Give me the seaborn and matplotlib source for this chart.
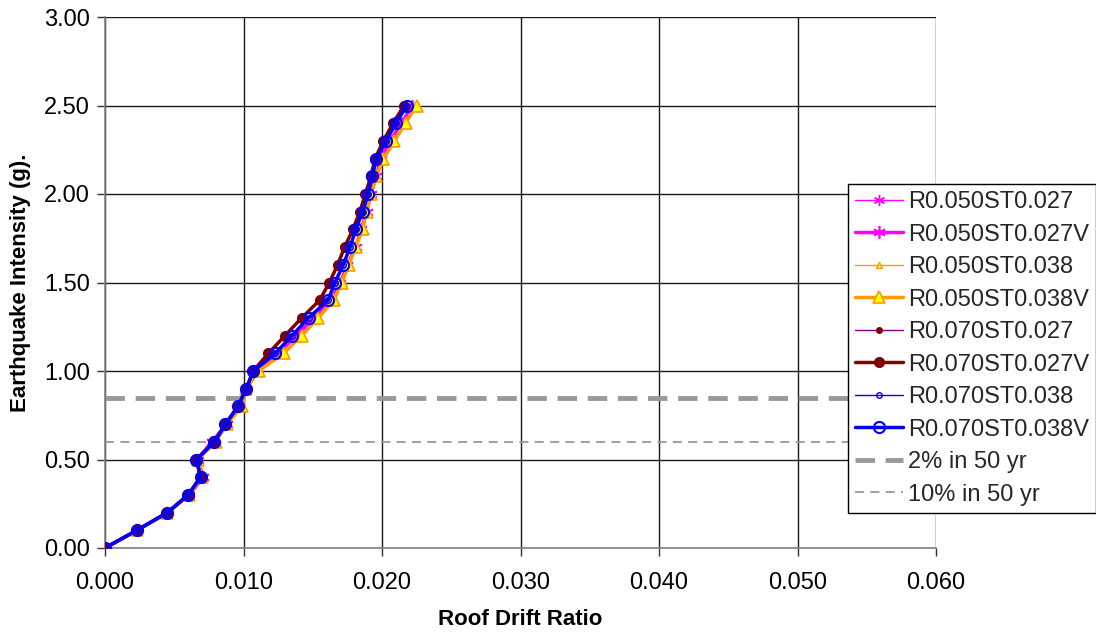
import matplotlib
matplotlib.use("Agg")
import matplotlib.pyplot as plt
import seaborn as sns
import numpy as np
import pandas as pd
from matplotlib.ticker import FormatStrFormatter, MultipleLocator

# ---- data ----
intensity = [0.0, 0.1, 0.2, 0.3, 0.4, 0.5, 0.6, 0.7, 0.8, 0.9, 1.0, 1.1, 1.2,
             1.3, 1.4, 1.5, 1.6, 1.7, 1.8, 1.9, 2.0, 2.1, 2.2, 2.3, 2.4, 2.5]

r050_st027 = [0.0, 0.0023, 0.0045, 0.0061, 0.0071, 0.0067, 0.0077, 0.0088, 0.0097, 0.0102,
              0.0109, 0.0125, 0.0138, 0.0151, 0.0163, 0.0170, 0.0175, 0.0181, 0.0185, 0.0189,
              0.0192, 0.0196, 0.0199, 0.0206, 0.0214, 0.0222]
r050_st027v = [0.0, 0.0023, 0.0045, 0.0061, 0.0071, 0.0067, 0.0077, 0.0088, 0.0097, 0.0102,
               0.0109, 0.0125, 0.0138, 0.0151, 0.0163, 0.0170, 0.0175, 0.0181, 0.0185, 0.0189,
               0.0192, 0.0196, 0.0199, 0.0206, 0.0214, 0.0222]
r050_st038 = [0.0, 0.0023, 0.0045, 0.0061, 0.0070, 0.0067, 0.0080, 0.0088, 0.0099, 0.0102,
              0.0111, 0.0129, 0.0142, 0.0154, 0.0165, 0.0171, 0.0176, 0.0181, 0.0186, 0.0189,
              0.0192, 0.0196, 0.0201, 0.0209, 0.0217, 0.0225]
r050_st038v = [0.0, 0.0023, 0.0045, 0.0061, 0.0070, 0.0067, 0.0080, 0.0088, 0.0099, 0.0102,
               0.0111, 0.0129, 0.0142, 0.0154, 0.0165, 0.0171, 0.0176, 0.0181, 0.0186, 0.0189,
               0.0192, 0.0196, 0.0201, 0.0209, 0.0217, 0.0225]
r070_st027 = [0.0, 0.0023, 0.0045, 0.0060, 0.0069, 0.0066, 0.0079, 0.0087, 0.0096, 0.0102,
              0.0107, 0.0118, 0.0130, 0.0142, 0.0155, 0.0162, 0.0168, 0.0173, 0.0179, 0.0184,
              0.0188, 0.0192, 0.0195, 0.0201, 0.0208, 0.0216]
r070_st027v = [0.0, 0.0023, 0.0045, 0.0060, 0.0069, 0.0066, 0.0079, 0.0087, 0.0096, 0.0102,
               0.0107, 0.0118, 0.0130, 0.0142, 0.0155, 0.0162, 0.0168, 0.0173, 0.0179, 0.0184,
               0.0188, 0.0192, 0.0195, 0.0201, 0.0208, 0.0216]
r070_st038 = [0.0, 0.0023, 0.0045, 0.0060, 0.0069, 0.0066, 0.0079, 0.0087, 0.0096, 0.0102,
              0.0107, 0.0123, 0.0135, 0.0147, 0.0161, 0.0166, 0.0172, 0.0177, 0.0181, 0.0186,
              0.0190, 0.0193, 0.0196, 0.0203, 0.0210, 0.0218]
r070_st038v = [0.0, 0.0023, 0.0045, 0.0060, 0.0069, 0.0066, 0.0079, 0.0087, 0.0096, 0.0102,
               0.0107, 0.0123, 0.0135, 0.0147, 0.0161, 0.0166, 0.0172, 0.0177, 0.0181, 0.0186,
               0.0190, 0.0193, 0.0196, 0.0203, 0.0210, 0.0218]

hazard_levels = [0.85, 0.60]
hazard_labels = ["2% in 50 yr", "10% in 50 yr"]

x_ticks = [0.0, 0.01, 0.02, 0.03, 0.04, 0.05, 0.06]
y_ticks = [0.0, 0.5, 1.0, 1.5, 2.0, 2.5, 3.0]

# ---- style ----
sns.set_theme(style="white")
plt.rcParams['font.family'] = ['Liberation Sans', 'DejaVu Sans']

fig = plt.figure(figsize=(10.96, 6.35), dpi=100)
ax = fig.add_axes([105/1096, 1-548/635, (936-105)/1096, (548-17)/635])

series = [
    ("R0.050ST0.027", r050_st027, dict(color="#FF00FF", lw=1.0, marker=(6, 2, 0), ms=8, mec="#FF00FF", mew=1.0)),
    ("R0.050ST0.027V", r050_st027v, dict(color="#FF00FF", lw=2.5, marker=(6, 2, 0), ms=9, mec="#FF00FF", mew=1.2)),
    ("R0.050ST0.038", r050_st038, dict(color="#FF9900", lw=1.0, marker="^", ms=5, mfc="#FFFF00", mec="#FF9900", mew=1.0)),
    ("R0.050ST0.038V", r050_st038v, dict(color="#FF9900", lw=2.5, marker="^", ms=8, mfc="#FFFF00", mec="#FF9900", mew=1.2)),
    ("R0.070ST0.027", r070_st027, dict(color="#800080", lw=1.0, marker="o", ms=4, mfc="#800000", mec="#800000", mew=1.0)),
    ("R0.070ST0.027V", r070_st027v, dict(color="#800000", lw=2.5, marker="o", ms=7, mfc="#800000", mec="#800000", mew=1.0)),
    ("R0.070ST0.038", r070_st038, dict(color="#0000FF", lw=1.0, marker="o", ms=4, mfc="none", mec="#0000FF", mew=1.0)),
    ("R0.070ST0.038V", r070_st038v, dict(color="#0000FF", lw=2.5, marker="o", ms=8, mfc="none", mec="#0000FF", mew=1.5)),
]

for i, (name, xs, kw) in enumerate(series):
    df = pd.DataFrame({"drift": xs, "intensity": intensity})
    sns.lineplot(data=df, x="drift", y="intensity", sort=False, estimator=None,
                 label=name, ax=ax, zorder=3 + i, **kw)

ax.axhline(hazard_levels[0], color="#999999", lw=3.5, ls=(0, (4, 2.2)), label=hazard_labels[0], zorder=2)
ax.axhline(hazard_levels[1], color="#999999", lw=1.3, ls=(0, (5, 3.5)), label=hazard_labels[1], zorder=2)

ax.set_xlim(0, 0.06)
ax.set_ylim(0, 3.0)
ax.set_xticks(x_ticks)
ax.set_yticks(y_ticks)
ax.xaxis.set_major_formatter(FormatStrFormatter("%.3f"))
ax.yaxis.set_major_formatter(FormatStrFormatter("%.2f"))
ax.grid(True, color="#1a1a1a", lw=1.0)
ax.set_axisbelow(True)
for s in ["top", "right"]:
    ax.spines[s].set_visible(False)
for s in ["left", "bottom"]:
    ax.spines[s].set_color("#808080")
    ax.spines[s].set_linewidth(1.2)
ax.tick_params(axis="both", which="major", direction="out", length=6, width=1,
               color="#333333", labelsize=17, bottom=True, left=True,
               labelcolor="black")
ax.tick_params(axis="x", pad=11)
ax.tick_params(axis="y", pad=5)

ax.set_xlabel("Roof Drift Ratio", fontsize=16, fontweight="bold", labelpad=11, color="black")
ax.set_ylabel("Earthquake Intensity (g).", fontsize=16, fontweight="bold", labelpad=9, color="black")

handles, labels = ax.get_legend_handles_labels()
leg = ax.legend(handles, labels, loc="upper left",
                bbox_to_anchor=(848/1096, 1-184/635), bbox_transform=fig.transFigure,
                borderaxespad=0, fontsize=17, frameon=True, fancybox=False,
                edgecolor="black", framealpha=1, handlelength=2.05, handletextpad=0.2,
                labelspacing=0.445, borderpad=0.3)
leg.get_frame().set_linewidth(1.0)
leg.set_zorder(20)

fig.savefig("out.png", dpi=100)
